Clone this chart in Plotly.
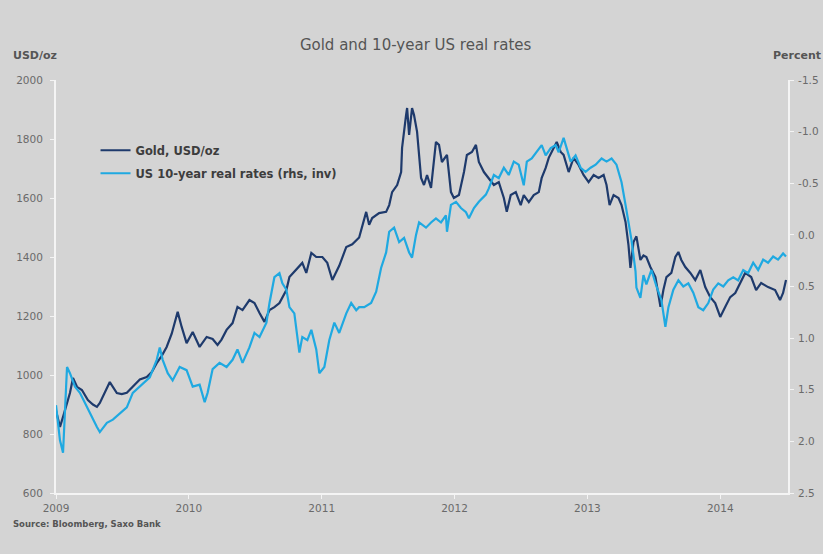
import plotly.graph_objects as go

# Gold price, USD/oz (decimal year, value)
gold_year = [
    2009.000, 2009.030, 2009.053, 2009.083, 2009.105, 2009.128, 2009.158, 2009.195, 2009.240, 2009.278,
    2009.308, 2009.330, 2009.368, 2009.405, 2009.458, 2009.495, 2009.533, 2009.578, 2009.631, 2009.683,
    2009.721, 2009.758, 2009.796, 2009.833, 2009.871, 2009.893, 2009.916, 2009.946, 2009.983, 2010.029,
    2010.081, 2010.134, 2010.179, 2010.216, 2010.246, 2010.284, 2010.329, 2010.366, 2010.404, 2010.456,
    2010.494, 2010.532, 2010.569, 2010.607, 2010.644, 2010.682, 2010.734, 2010.757, 2010.809, 2010.854,
    2010.884, 2010.922, 2010.959, 2011.005, 2011.042, 2011.080, 2011.132, 2011.185, 2011.230, 2011.282,
    2011.335, 2011.357, 2011.380, 2011.432, 2011.485, 2011.508, 2011.530, 2011.568, 2011.598, 2011.605,
    2011.635, 2011.643, 2011.658, 2011.680, 2011.695, 2011.718, 2011.748, 2011.770, 2011.793, 2011.823,
    2011.860, 2011.883, 2011.905, 2011.943, 2011.973, 2011.995, 2012.033, 2012.071, 2012.093, 2012.131,
    2012.161, 2012.183, 2012.221, 2012.258, 2012.296, 2012.333, 2012.371, 2012.393, 2012.423, 2012.461,
    2012.498, 2012.521, 2012.559, 2012.596, 2012.634, 2012.656, 2012.686, 2012.709, 2012.746, 2012.769,
    2012.799, 2012.821, 2012.859, 2012.896, 2012.934, 2012.971, 2013.009, 2013.047, 2013.084, 2013.122,
    2013.144, 2013.167, 2013.197, 2013.234, 2013.257, 2013.287, 2013.309, 2013.324, 2013.347, 2013.369,
    2013.399, 2013.422, 2013.444, 2013.474, 2013.512, 2013.550, 2013.572, 2013.595, 2013.632, 2013.662,
    2013.685, 2013.707, 2013.737, 2013.775, 2013.812, 2013.850, 2013.887, 2013.925, 2013.962, 2014.000,
    2014.038, 2014.075, 2014.113, 2014.150, 2014.188, 2014.233, 2014.270, 2014.308, 2014.360, 2014.413,
    2014.450, 2014.473, 2014.495,
]
gold_usd = [
    880, 824, 858, 905, 939, 990, 960, 949, 915, 900,
    892, 905, 940, 976, 939, 935, 940, 960, 985, 993,
    1010, 1040, 1065, 1095, 1140, 1176, 1214, 1163, 1108, 1146,
    1095, 1129, 1122, 1102, 1120, 1153, 1176, 1231, 1220, 1254,
    1244, 1210, 1180, 1220, 1230, 1244, 1288, 1332, 1356, 1380,
    1346, 1414, 1400, 1400, 1380, 1322, 1370, 1434, 1443, 1466,
    1553, 1509, 1532, 1549, 1553, 1576, 1620, 1644, 1688, 1770,
    1881, 1905, 1814, 1905, 1881, 1824, 1668, 1644, 1678, 1634,
    1790, 1780, 1722, 1746, 1620, 1600, 1610, 1688, 1746, 1756,
    1780, 1722, 1688, 1666, 1644, 1654, 1600, 1553, 1610, 1620,
    1576, 1610, 1586, 1610, 1620, 1668, 1702, 1736, 1770, 1790,
    1756, 1746, 1688, 1736, 1712, 1678, 1654, 1678, 1668, 1678,
    1644, 1576, 1610, 1600, 1576, 1519, 1441, 1363, 1451, 1470,
    1390, 1405, 1400, 1366, 1332, 1231, 1288, 1332, 1346, 1400,
    1417, 1390, 1366, 1346, 1322, 1356, 1298, 1264, 1244, 1197,
    1231, 1264, 1278, 1312, 1346, 1332, 1288, 1312, 1298, 1288,
    1254, 1278, 1322,
]

# US 10-year real rates, percent (decimal year, value) - plotted on an inverted right axis
rate_year = [
    2009.000, 2009.030, 2009.053, 2009.068, 2009.083, 2009.105, 2009.143, 2009.180, 2009.218, 2009.255,
    2009.308, 2009.330, 2009.383, 2009.428, 2009.480, 2009.533, 2009.578, 2009.631, 2009.706, 2009.758,
    2009.781, 2009.803, 2009.841, 2009.878, 2009.931, 2009.983, 2010.029, 2010.081, 2010.119, 2010.141,
    2010.179, 2010.231, 2010.284, 2010.329, 2010.366, 2010.404, 2010.456, 2010.494, 2010.532, 2010.584,
    2010.607, 2010.644, 2010.682, 2010.704, 2010.734, 2010.757, 2010.794, 2010.832, 2010.854, 2010.892,
    2010.922, 2010.959, 2010.982, 2011.020, 2011.057, 2011.095, 2011.132, 2011.185, 2011.222, 2011.260,
    2011.282, 2011.320, 2011.372, 2011.410, 2011.447, 2011.485, 2011.508, 2011.545, 2011.583, 2011.620,
    2011.658, 2011.680, 2011.710, 2011.733, 2011.785, 2011.823, 2011.860, 2011.898, 2011.935, 2011.943,
    2011.973, 2012.011, 2012.048, 2012.086, 2012.108, 2012.146, 2012.183, 2012.236, 2012.258, 2012.296,
    2012.333, 2012.371, 2012.408, 2012.446, 2012.483, 2012.521, 2012.544, 2012.581, 2012.619, 2012.656,
    2012.686, 2012.724, 2012.761, 2012.784, 2012.821, 2012.844, 2012.874, 2012.911, 2012.949, 2012.986,
    2013.024, 2013.062, 2013.107, 2013.144, 2013.182, 2013.219, 2013.257, 2013.287, 2013.309, 2013.332,
    2013.362, 2013.369, 2013.399, 2013.422, 2013.444, 2013.482, 2013.520, 2013.557, 2013.587, 2013.610,
    2013.647, 2013.685, 2013.722, 2013.760, 2013.797, 2013.835, 2013.872, 2013.910, 2013.947, 2013.985,
    2014.023, 2014.060, 2014.098, 2014.135, 2014.173, 2014.210, 2014.248, 2014.285, 2014.323, 2014.360,
    2014.398, 2014.435, 2014.473, 2014.495,
]
real_rate = [
    1.65, 1.99, 2.11, 1.70, 1.28, 1.34, 1.47, 1.53, 1.63, 1.73,
    1.86, 1.91, 1.82, 1.79, 1.73, 1.67, 1.53, 1.47, 1.38, 1.21,
    1.09, 1.21, 1.34, 1.41, 1.28, 1.31, 1.47, 1.45, 1.62, 1.53,
    1.30, 1.24, 1.28, 1.21, 1.11, 1.24, 1.09, 0.95, 0.99, 0.85,
    0.66, 0.41, 0.37, 0.47, 0.53, 0.70, 0.76, 1.14, 0.99, 1.02,
    0.92, 1.11, 1.34, 1.28, 1.02, 0.85, 0.95, 0.76, 0.66, 0.73,
    0.70, 0.70, 0.66, 0.55, 0.32, 0.17, -0.03, -0.07, 0.07, 0.03,
    0.17, 0.22, 0.00, -0.12, -0.07, -0.12, -0.16, -0.12, -0.19, -0.03,
    -0.29, -0.32, -0.26, -0.22, -0.16, -0.26, -0.32, -0.39, -0.45, -0.58,
    -0.55, -0.65, -0.58, -0.71, -0.68, -0.48, -0.71, -0.74, -0.80, -0.87,
    -0.77, -0.84, -0.87, -0.80, -0.94, -0.84, -0.71, -0.77, -0.65, -0.61,
    -0.65, -0.68, -0.74, -0.71, -0.74, -0.68, -0.51, -0.29, -0.14, 0.05,
    0.35, 0.51, 0.61, 0.39, 0.48, 0.34, 0.50, 0.63, 0.89, 0.70,
    0.53, 0.44, 0.50, 0.47, 0.56, 0.70, 0.73, 0.66, 0.53, 0.47,
    0.50, 0.44, 0.41, 0.44, 0.34, 0.37, 0.27, 0.34, 0.24, 0.27,
    0.21, 0.24, 0.18, 0.21,
]

year_ticks = [2009, 2010, 2011, 2012, 2013, 2014]
rate_ticks = [-1.5, -1.0, -0.5, 0.0, 0.5, 1.0, 1.5, 2.0, 2.5]

BG = "#d4d4d4"
AXIS = "#f4f4f4"
TICK_FONT = dict(family="DejaVu Sans", size=10.5, color="#6a6a6a")

fig = go.Figure()
fig.add_trace(go.Scatter(
    x=gold_year, y=gold_usd, mode="lines", name="Gold, USD/oz",
    line=dict(color="#1e3a6c", width=2.2), legendgroup="gold",
))
fig.add_trace(go.Scatter(
    x=rate_year, y=real_rate, mode="lines", name="US 10-year real rates (rhs, inv)",
    yaxis="y2", line=dict(color="#1fa9e1", width=2.2), legendgroup="rates",
))

axis_style = dict(
    showline=True, linecolor=AXIS, linewidth=2,
    ticks="outside", tickcolor=AXIS, ticklen=4, tickwidth=1,
    showgrid=False, zeroline=False, tickfont=TICK_FONT, automargin=False,
)

fig.update_layout(
    width=823, height=554,
    margin=dict(l=56, r=35, t=80, b=61),
    paper_bgcolor=BG, plot_bgcolor=BG,
    title=dict(
        text="Gold and 10-year US real rates",
        x=0.505, xref="container", xanchor="center",
        y=1 - 45 / 554, yref="container", yanchor="middle",
        font=dict(family="DejaVu Sans", size=15, color="#555555"),
    ),
    xaxis=dict(range=[2009, 2014.51], tickvals=year_ticks,
               ticktext=[str(y) for y in year_ticks], **axis_style),
    yaxis=dict(range=[600, 2000], dtick=200, ticklabelstandoff=5, **axis_style),
    yaxis2=dict(range=[2.5, -1.5], tickvals=rate_ticks,
                ticktext=[f"{v:.1f}" for v in rate_ticks],
                overlaying="y", side="right", ticklabelstandoff=2, **axis_style),
    showlegend=True,
    legend=dict(
        x=0.054, y=0.865, xanchor="left", yanchor="top",
        bgcolor="rgba(0,0,0,0)", tracegroupgap=4,
        font=dict(family="DejaVu Sans", size=11.5, color="#3d3d3d", weight="bold"),
    ),
    annotations=[
        dict(text="USD/oz", xref="paper", yref="paper", x=-0.062, y=1.06,
             xanchor="left", yanchor="middle", showarrow=False,
             font=dict(family="DejaVu Sans", size=11, color="#555555", weight="bold")),
        dict(text="Percent", xref="paper", yref="paper", x=1.048, y=1.06,
             xanchor="right", yanchor="middle", showarrow=False,
             font=dict(family="DejaVu Sans", size=11, color="#555555", weight="bold")),
        dict(text="Source: Bloomberg, Saxo Bank", xref="paper", yref="paper",
             x=-0.062, y=-0.075, xanchor="left", yanchor="middle", showarrow=False,
             font=dict(family="DejaVu Sans", size=8.5, color="#555555", weight="bold")),
    ],
)

fig.write_html("out.html")
